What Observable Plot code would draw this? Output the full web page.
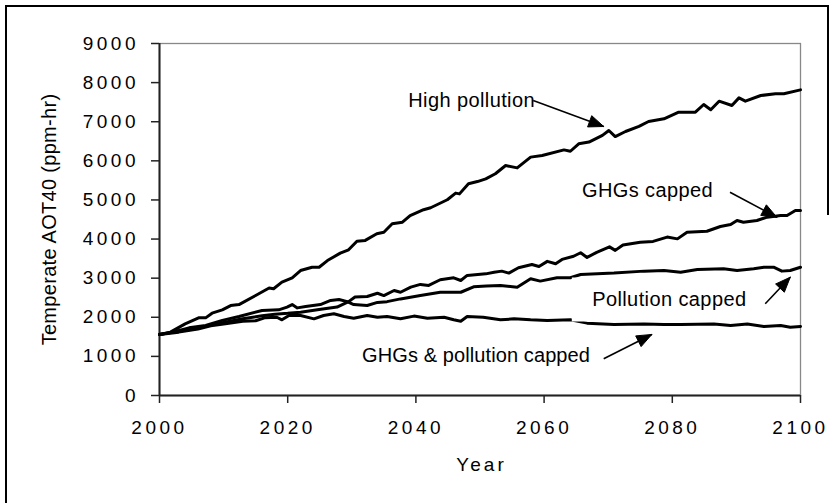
<!DOCTYPE html>
<html><head><meta charset="utf-8">
<script src="https://cdn.jsdelivr.net/npm/d3@7"></script>
<script src="https://cdn.jsdelivr.net/npm/@observablehq/plot@0.6"></script>
<style>
html,body{margin:0;padding:0;background:#fff;}
#wrap{position:relative;width:838px;height:503px;overflow:hidden;background:#fff;}
#chart svg{display:block;}
#chart g[aria-label="x-axis tick label"] text,
#chart g[aria-label="y-axis tick label"] text{letter-spacing:3.5px;}
#chart text[aria-label="xlabel"]{letter-spacing:3px;}
#chart text[aria-label="ylabel"]{letter-spacing:0.3px;}
#chart text[aria-label="annotation"]{letter-spacing:0.4px;}
#chart text[aria-label="annotation-tight"]{letter-spacing:0.1px;}
.bl{position:absolute;background:#000;}
</style></head><body>
<div id="wrap"><div id="chart"></div>
<div class="bl" style="left:5px;top:5px;width:1.5px;height:498px"></div>
<div class="bl" style="left:5px;top:5px;width:823px;height:1.5px"></div>
<div class="bl" style="left:827px;top:5px;width:1.5px;height:210px"></div>
</div>
<script>
// ---- data (year, ppm-hr) ----
const highPollution = [[2000,1560],[2001.7,1620],[2004,1830],[2006.1,1985],[2007.2,1985],[2008.2,2105],[2009.8,2190],[2011.1,2300],[2012.4,2325],[2015,2557],[2017.1,2750],[2017.8,2730],[2019.1,2900],[2020.7,3010],[2022,3195],[2023.8,3280],[2024.9,3280],[2026.2,3450],[2028.2,3640],[2029.5,3725],[2030.8,3945],[2032.1,3965],[2033.9,4135],[2035,4175],[2036.3,4390],[2037.9,4430],[2039.1,4600],[2041.2,4750],[2042.3,4800],[2044.9,5005],[2046.2,5175],[2046.8,5155],[2048.2,5415],[2049.6,5470],[2050.9,5540],[2052.4,5670],[2054,5880],[2055.8,5820],[2057.9,6095],[2059.7,6135],[2063.1,6280],[2064.1,6245],[2065.4,6435],[2067,6480],[2069.1,6650],[2070.1,6775],[2071.1,6620],[2072.7,6750],[2074.8,6880],[2076.3,7005],[2078.7,7075],[2081,7245],[2083.6,7245],[2084.9,7440],[2086,7305],[2087.3,7525],[2089.3,7415],[2090.4,7610],[2091.4,7525],[2093.8,7670],[2096.1,7715],[2097.4,7715],[2100,7815]];
const ghgsCapped = [[2000,1560],[2003,1640],[2006,1720],[2008,1800],[2010,1870],[2013,1960],[2016,2040],[2018,2080],[2020,2100],[2022,2130],[2024.9,2200],[2027.7,2260],[2029.5,2400],[2030.5,2520],[2032.4,2530],[2034,2615],[2035,2555],[2036.6,2685],[2037.6,2640],[2039.2,2770],[2040.7,2840],[2042,2815],[2043.8,2960],[2045.9,3010],[2047,2940],[2048,3070],[2050.9,3110],[2052.2,3150],[2053.4,3180],[2054.5,3130],[2056,3265],[2058.1,3350],[2059.2,3300],[2060.5,3430],[2061.8,3370],[2062.8,3480],[2064.6,3560],[2065.7,3650],[2066.7,3530],[2068.2,3660],[2070.2,3800],[2071.1,3710],[2072.3,3850],[2075,3920],[2077,3940],[2079.2,4050],[2080.8,4005],[2082.3,4175],[2085.4,4200],[2087.5,4320],[2089.1,4370],[2090.1,4475],[2091.1,4430],[2093.2,4475],[2094.8,4560],[2096.9,4600],[2097.9,4600],[2099.2,4730],[2100,4730]];
const pollutionCapped = [[2000,1560],[2002,1620],[2004.6,1730],[2007.2,1790],[2009.8,1920],[2012.4,2020],[2016,2175],[2018.6,2190],[2019.9,2260],[2020.7,2325],[2021.5,2240],[2022.8,2275],[2025.1,2325],[2026.7,2430],[2028,2455],[2029.3,2400],[2030.3,2325],[2032.4,2300],[2034,2380],[2035.5,2400],[2037.6,2470],[2040.7,2555],[2043.8,2640],[2047,2640],[2049,2780],[2051,2800],[2053.2,2815],[2055.8,2770],[2057.9,2985],[2059.4,2925],[2062,3010],[2064.1,3010],[2065.7,3095],[2070.9,3130],[2075.6,3180],[2078.7,3195],[2081.3,3150],[2083.9,3220],[2088,3240],[2090.1,3195],[2092.7,3240],[2094.3,3280],[2095.8,3280],[2097.1,3180],[2098.4,3195],[2100,3280]];
const bothCapped = [[2000,1560],[2003,1620],[2006,1700],[2008,1780],[2010,1830],[2013,1900],[2015,1910],[2016.5,1990],[2018.3,2000],[2019.1,1935],[2020.2,2045],[2022,2045],[2024.1,1960],[2025.6,2045],[2027.2,2090],[2028.8,2020],[2030.3,1975],[2032.4,2045],[2034,2000],[2035.5,2020],[2037.6,1960],[2039.7,2030],[2041.8,1975],[2044.4,2000],[2045.9,1935],[2047,1900],[2048,2020],[2050.5,2000],[2053.2,1935],[2055.3,1960],[2057.9,1935],[2060.5,1920],[2064.1,1935],[2066.7,1850],[2070.9,1815],[2075.6,1830],[2078.7,1815],[2081.3,1815],[2086.5,1830],[2089.1,1790],[2091.7,1830],[2094.3,1765],[2096.9,1790],[2098.4,1745],[2100,1765]];

const xTicks = [2000, 2020, 2040, 2060, 2080, 2100];
const yTicks = [0, 1000, 2000, 3000, 4000, 5000, 6000, 7000, 8000, 9000];

// annotation labels (data coordinates) and arrows
const labels = [
  {text: "High pollution", x: 2038.8, y: 7364, tight: false},
  {text: "GHGs capped", x: 2065.9, y: 5076, tight: false},
  {text: "Pollution capped", x: 2067.5, y: 2301, tight: false},
  {text: "GHGs & pollution capped", x: 2031.6, y: 844, tight: true}
];
const arrows = [
  {id: "a1", x1: 2058.3, y1: 7543, x2: 2069.3, y2: 6878},
  {id: "a2", x1: 2089.0, y1: 5198, x2: 2096.3, y2: 4559},
  {id: "a3", x1: 2094.5, y1: 2345, x2: 2098.4, y2: 3025},
  {id: "a4", x1: 2069.3, y1: 938, x2: 2076.8, y2: 1560}
];
const labelBox = [{x1: 2064.4, x2: 2094.5, y1: 1879, y2: 3004}];

const series = [
  ["High pollution", highPollution],
  ["GHGs capped", ghgsCapped],
  ["Pollution capped", pollutionCapped],
  ["GHGs & pollution capped", bothCapped]
];
const rows = series.flatMap(([name, pts]) => pts.map(([year, value]) => ({series: name, year, value})));

const base = {
  width: 838, height: 503,
  marginLeft: 159, marginRight: 38, marginTop: 43, marginBottom: 108,
  x: {domain: [2000, 2100], label: null},
  y: {domain: [0, 9000], label: null}
};

// probe scales to build filled arrowheads in data space
const probe = Plot.plot({...base, marks: [Plot.frame()]});
const sx = probe.scale("x"), sy = probe.scale("y");
const heads = arrows.flatMap(a => {
  const px1 = sx.apply(a.x1), py1 = sy.apply(a.y1);
  const px2 = sx.apply(a.x2), py2 = sy.apply(a.y2);
  const dx = px2 - px1, dy = py2 - py1, len = Math.hypot(dx, dy);
  const ux = dx / len, uy = dy / len, L = 15, w = 6;
  const bx = px2 - ux * L, by = py2 - uy * L;
  const pts = [[px2, py2], [bx - uy * w, by + ux * w], [bx + uy * w, by - ux * w], [px2, py2]];
  return pts.map(([px, py]) => ({id: a.id, x: sx.invert(px), y: sy.invert(py)}));
});

const chart = Plot.plot({
  ...base,
  style: {fontFamily: '"Liberation Sans", Arial, sans-serif', fontSize: "19px", background: "white", color: "black", overflow: "visible"},
  marks: [
    Plot.frame({stroke: "#888", strokeWidth: 1.3}),
    Plot.axisY({ticks: yTicks, tickSize: 8, tickPadding: 12.5, tickFormat: d => String(d), label: null, strokeWidth: 1.5, stroke: "#222"}),
    Plot.axisX({ticks: xTicks, tickSize: 8, tickPadding: 17, tickFormat: d => String(d), label: null, strokeWidth: 1.5, stroke: "#222"}),
    Plot.ruleX([2000], {stroke: "#222", strokeWidth: 2}),
    Plot.ruleY([0], {stroke: "#222", strokeWidth: 2}),
    Plot.line(rows, {x: "year", y: "value", z: "series", stroke: "black", strokeWidth: 3, strokeLinejoin: "round"}),
    Plot.rect(labelBox, {x1: "x1", x2: "x2", y1: "y1", y2: "y2", fill: "white"}),
    Plot.text(labels, {x: "x", y: "y", text: "text", textAnchor: "start", lineAnchor: "bottom", fontSize: 20, fill: "black", ariaLabel: d => d.tight ? "annotation-tight" : "annotation"}),
    Plot.link(arrows, {x1: "x1", y1: "y1", x2: "x2", y2: "y2", stroke: "black", strokeWidth: 1.6}),
    Plot.line(heads, {x: "x", y: "y", z: "id", fill: "black", stroke: "black", strokeWidth: 1}),
    Plot.text(["Temperate AOT40 (ppm-hr)"], {frameAnchor: "left", dx: -104, rotate: -90, textAnchor: "middle", lineAnchor: "bottom", fontSize: 20, fill: "black", ariaLabel: () => "ylabel"}),
    Plot.text(["Year"], {frameAnchor: "bottom", dy: 75, dx: 1.5, textAnchor: "middle", lineAnchor: "bottom", fontSize: 19, fill: "black", ariaLabel: () => "xlabel"})
  ]
});
document.getElementById("chart").appendChild(chart);
</script>
</body></html>
